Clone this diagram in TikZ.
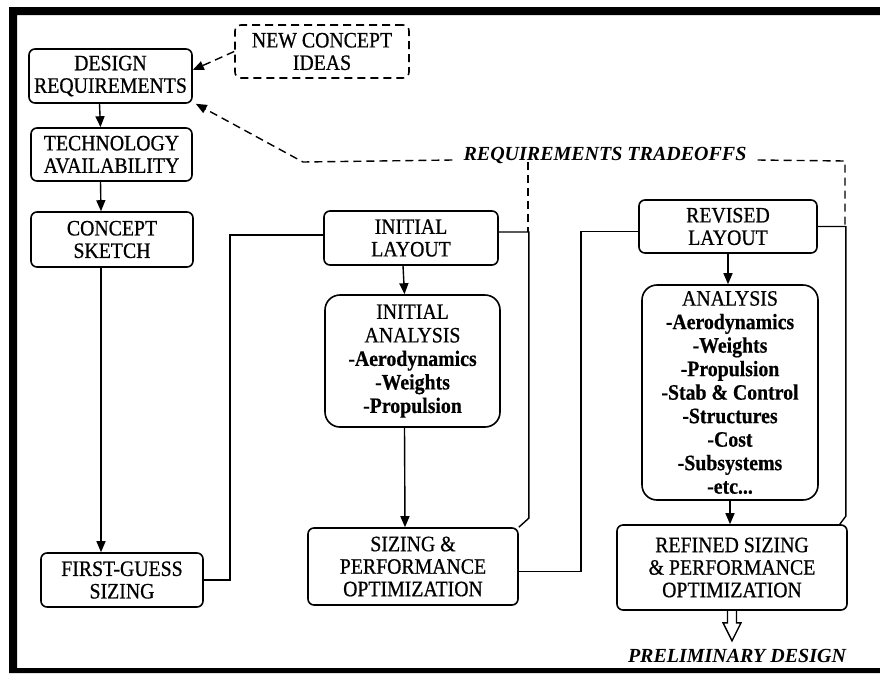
\documentclass[tikz,border=0pt]{standalone}
\usepackage{fontspec}
\setmainfont{Liberation Serif}
\newfontfamily\boxfont[FakeStretch=0.9,FakeBold=0.6]{Liberation Serif}
\usetikzlibrary{arrows.meta}
\tikzset{
  box/.style={draw,line width=1.6pt,rounded corners=6pt,align=center,inner sep=2pt,
    font=\boxfont\fontsize{22}{22.5}\selectfont},
  bigbox/.style={box,rounded corners=15pt,font=\boxfont\fontsize{22}{23.5}\selectfont},
  ideabox/.style={box,dash pattern=on 8pt off 5pt},
  link/.style={line width=1.4pt},
  dashlink/.style={link,dash pattern=on 8pt off 5pt},
  arr/.style={-{Triangle[length=11pt,width=9pt]}},
  slanted/.style={font=\fontsize{20}{22}\selectfont\bfseries\itshape,anchor=base}
}
\begin{document}
\begin{tikzpicture}[x=1pt,y=-1pt]
  \useasboundingbox (0,0) rectangle (880,673);
  \fill[white] (0,0) rectangle (880,673);
  \fill (9,7) rectangle (17,673) (9,7) rectangle (880,15) (9,668) rectangle (880,673);

  \node[box,minimum width=163pt,minimum height=54pt] (req) at (110.5,76) {DESIGN\\REQUIREMENTS};
  \node[ideabox,minimum width=174pt,minimum height=53pt] (ideas) at (322,51.5) {NEW CONCEPT\\IDEAS};
  \node[box,minimum width=161pt,minimum height=53pt] (tech) at (111.5,154.5) {TECHNOLOGY\\AVAILABILITY};
  \node[box,minimum width=162pt,minimum height=55pt] (sketch) at (112,239.5) {CONCEPT\\SKETCH};
  \node[box,minimum width=162pt,minimum height=54pt] (guess) at (122,580) {FIRST-GUESS\\SIZING};
  \node[box,minimum width=174pt,minimum height=54pt] (ilay) at (411,238) {INITIAL\\LAYOUT};
  \node[bigbox,minimum width=175pt,minimum height=132pt] (iana) at (412.5,361)
    {INITIAL\\ANALYSIS\\\textbf{-Aerodynamics}\\\textbf{-Weights}\\\textbf{-Propulsion}};
  \node[box,minimum width=210pt,minimum height=77pt] (size) at (413,566.5)
    {SIZING \&\\PERFORMANCE\\OPTIMIZATION};
  \node[box,minimum width=178pt,minimum height=53pt] (rlay) at (728,226.5) {REVISED\\LAYOUT};
  \node[bigbox,minimum width=176pt,minimum height=215pt] (ana) at (730,392.5)
    {ANALYSIS\\\textbf{-Aerodynamics}\\\textbf{-Weights}\\\textbf{-Propulsion}\\\textbf{-Stab \& Control}\\
     \textbf{-Structures}\\\textbf{-Cost}\\\textbf{-Subsystems}\\\textbf{-etc...}};
  \node[box,minimum width=230pt,minimum height=85pt] (rsize) at (732,567.5)
    {REFINED SIZING\\\& PERFORMANCE\\OPTIMIZATION};
  \node[slanted,inner sep=11pt] (trade) at (605,160) {REQUIREMENTS TRADEOFFS};
  \node[slanted,inner sep=0pt] (prelim) at (737,662) {PRELIMINARY DESIGN};

  \coordinate (kink) at (303,162);
  \coordinate (ltop) at (528,162);
  \coordinate (rtop) at (845,161);

  \draw[link,arr] ([xshift=-11pt]req.south) -- ([xshift=-11pt]tech.north);
  \draw[link,arr] ([xshift=-11pt]tech.south) -- ([xshift=-11pt]sketch.north);
  \draw[link,arr] ([xshift=-11pt]sketch.south) -- ([xshift=-11pt]sketch.south |- guess.north);
  \draw[dashlink,arr] (ideas.west) -- ([yshift=6pt]req.east);
  \draw[dashlink,arr] (trade.base west) -- (kink) -- ([xshift=3pt]req.south east);
  \draw[dashlink] (trade.base east) -- (rtop) -- (rlay.east -| rtop);
  \draw[dashlink] (ltop) -- ([yshift=6pt]ilay.east -| ltop);

  \draw[link] (guess.east) -- ++(26,0) |- ([yshift=3pt]ilay.west);
  \draw[link,arr] ([xshift=-8pt]ilay.south) -- ([xshift=-8pt]iana.north);
  \draw[link,arr] ([xshift=-8pt]iana.south) -- ([xshift=-8pt]size.north);
  \draw[link] (size.north east) -- ++(10,-9) |- ([yshift=6pt]ilay.east);
  \draw[link] ([yshift=-5pt]size.east) -- ++(62,0) |- ([yshift=-5pt]rlay.west);
  \draw[link,arr] (rlay.south) -- (rlay.south |- ana.north);
  \draw[link,arr] (ana.south) -- (ana.south |- rsize.north);
  \draw[link] ([xshift=-8pt]rsize.north east) -- ++(6,-8) |- (rlay.east);
  \draw[link] ([xshift=-4.5pt]rsize.south) -- ++(0,12) -- ++(-4.5,0) -- ++(9,18)
    -- ++(9,-18) -- ++(-4.5,0) -- ++(0,-12);
\end{tikzpicture}
\end{document}
